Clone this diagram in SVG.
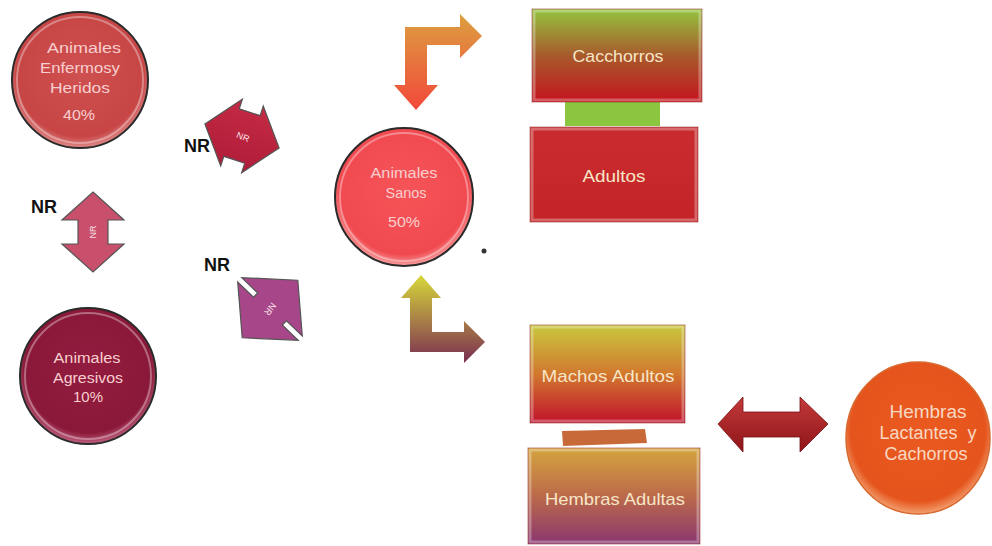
<svg xmlns="http://www.w3.org/2000/svg" width="992" height="546" viewBox="0 0 992 546">
<defs>
<radialGradient id="gEnf" cx="0.5" cy="0.45" r="0.55"><stop offset="0" stop-color="#cf5050"/><stop offset="0.85" stop-color="#c74545"/><stop offset="1" stop-color="#e08a8a"/></radialGradient>
<radialGradient id="gAgr" cx="0.5" cy="0.45" r="0.55"><stop offset="0" stop-color="#921c40"/><stop offset="0.85" stop-color="#8a1838"/><stop offset="1" stop-color="#c06080"/></radialGradient>
<radialGradient id="gSan" cx="0.5" cy="0.45" r="0.55"><stop offset="0" stop-color="#f65458"/><stop offset="0.85" stop-color="#f04a50"/><stop offset="1" stop-color="#f8a0a0"/></radialGradient>
<radialGradient id="gLac" cx="0.5" cy="0.45" r="0.55"><stop offset="0" stop-color="#ea5a20"/><stop offset="0.85" stop-color="#e5541c"/><stop offset="1" stop-color="#f2a070"/></radialGradient>
<linearGradient id="gCac" x1="0" y1="0" x2="0" y2="1"><stop offset="0" stop-color="#94c43e"/><stop offset="0.5" stop-color="#a85a2c"/><stop offset="1" stop-color="#c4141e"/></linearGradient>
<linearGradient id="gAdu" x1="0" y1="0" x2="0" y2="1"><stop offset="0" stop-color="#c92c2e"/><stop offset="1" stop-color="#c42428"/></linearGradient>
<linearGradient id="gMac" x1="0" y1="0" x2="0" y2="1"><stop offset="0" stop-color="#c8c83e"/><stop offset="0.5" stop-color="#d2782e"/><stop offset="1" stop-color="#c0122c"/></linearGradient>
<linearGradient id="gHem" x1="0" y1="0" x2="0" y2="1"><stop offset="0" stop-color="#d4a43e"/><stop offset="0.5" stop-color="#bc6a4a"/><stop offset="1" stop-color="#8a3670"/></linearGradient>
<linearGradient id="gBent1" x1="0" y1="0" x2="0" y2="1"><stop offset="0" stop-color="#dca040"/><stop offset="1" stop-color="#f2483a"/></linearGradient>
<linearGradient id="gBent2" x1="0" y1="0" x2="0" y2="1"><stop offset="0" stop-color="#d8d83a"/><stop offset="1" stop-color="#7a2c52"/></linearGradient>
<linearGradient id="gDbl" x1="0" y1="0" x2="0" y2="1"><stop offset="0" stop-color="#c43a3a"/><stop offset="1" stop-color="#8e1418"/></linearGradient>
<linearGradient id="gNR1" x1="0" y1="0" x2="0" y2="1"><stop offset="0" stop-color="#c42a44"/><stop offset="1" stop-color="#b01c38"/></linearGradient>
</defs>
<style>
.circ{stroke:#2a2a2a;stroke-width:2}
.rim{fill:none;stroke:#ffffff;stroke-opacity:0.35;stroke-width:2}
.ct{font-family:"Liberation Sans",Arial,sans-serif;font-size:14px;fill:#f8cfcf;text-anchor:middle}
.lt{font-family:"Liberation Sans",Arial,sans-serif;font-size:18px;fill:#f8d8c4;text-anchor:middle}
.rt{font-family:"Liberation Sans",Arial,sans-serif;font-size:17px;fill:#f6e6c6;text-anchor:middle}
.box{stroke:#8a1a1a;stroke-width:1;stroke-opacity:0.5}
.bev{fill:none;stroke:#ffffff;stroke-opacity:0.3;stroke-width:3}
.nr{font-family:"Liberation Sans",Arial,sans-serif;font-size:18px;font-weight:bold;fill:#111}
.nri{font-family:"Liberation Sans",Arial,sans-serif;font-size:9px;fill:#fbe0e8;text-anchor:middle}
.arr{stroke:#555;stroke-width:1.2}
</style>

<g id="connectors">
  <g id="nr-enfermos-sanos">
    <path class="arr" fill="url(#gNR1)" transform="translate(242,136) rotate(18)" d="M39,0 L11,-35 L11,-25 L-11,-25 L-11,-35 L-39,0 L-11,35 L-11,25 L11,25 L11,35 Z"/>
    <text class="nri" transform="translate(243,137) rotate(22)" y="3">NR</text>
    <text class="nr" x="184" y="152">NR</text>
  </g>
  <g id="nr-enfermos-agresivos">
    <path class="arr" fill="#c8506c" transform="translate(93,232)" d="M0,-40 L31,-12 L15,-12 L15,12 L31,12 L0,40 L-31,12 L-15,12 L-15,-12 L-31,-12 Z"/>
    <text class="nri" transform="translate(93,232) rotate(-90)" y="3">NR</text>
    <text class="nr" x="31" y="213">NR</text>
  </g>
  <g id="nr-agresivos-sanos">
    <path class="arr" fill="#a8468a" transform="translate(270,309) rotate(-46)" d="M40,0 L3,-42 L3,-20 L-3,-20 L-3,-42 L-40,0 L-3,42 L-3,20 L3,20 L3,42 Z"/>
    <text class="nri" transform="translate(270,309) rotate(128)" y="3">NR</text>
    <text class="nr" x="204" y="271">NR</text>
  </g>
  <path id="bent-top" fill="url(#gBent1)" d="M405,27 L460,27 L460,14 L482,36 L460,58 L460,45 L427,45 L427,85 L438,85 L416,110 L394,85 L405,85 Z"/>
  <path id="bent-bottom" fill="url(#gBent2)" d="M421,275 L441,298 L432,298 L432,332 L464,332 L464,321 L485,342 L464,363 L464,352 L410,352 L410,298 L401,298 Z"/>
  <path id="double-arrow" fill="url(#gDbl)" stroke="#7a1014" stroke-width="0.8" d="M718,424 L743,397 L743,412 L800,412 L800,397 L828,424 L800,452 L800,437 L743,437 L743,452 Z"/>
  <rect id="bar-top" x="565" y="102" width="95" height="24" fill="#8cc640"/>
  <path id="bar-bottom" fill="#c8693a" d="M562,431 L645,429 L647,443 L563,446 Z"/>
  <circle id="dot" cx="484" cy="251" r="2.5" fill="#333"/>
</g>

<g id="n-enfermos">
  <circle class="circ" cx="80" cy="80" r="68" fill="url(#gEnf)"/>
  <circle class="rim" cx="80" cy="80" r="63"/>
  <text class="ct" x="84" y="53" textLength="74" lengthAdjust="spacingAndGlyphs">Animales</text>
  <text class="ct" x="80" y="73" textLength="80" lengthAdjust="spacingAndGlyphs">Enfermosy</text>
  <text class="ct" x="80" y="93" textLength="60" lengthAdjust="spacingAndGlyphs">Heridos</text>
  <text class="ct" x="79" y="120" textLength="32" lengthAdjust="spacingAndGlyphs">40%</text>
</g>
<g id="n-agresivos">
  <circle class="circ" cx="88" cy="376" r="68" fill="url(#gAgr)"/>
  <circle class="rim" cx="88" cy="376" r="63"/>
  <text class="ct" x="87" y="363" textLength="67" lengthAdjust="spacingAndGlyphs">Animales</text>
  <text class="ct" x="88" y="383" textLength="70" lengthAdjust="spacingAndGlyphs">Agresivos</text>
  <text class="ct" x="88" y="402" textLength="30" lengthAdjust="spacingAndGlyphs">10%</text>
</g>
<g id="n-sanos">
  <circle class="circ" cx="404" cy="197" r="69" fill="url(#gSan)"/>
  <circle class="rim" cx="404" cy="197" r="64"/>
  <text class="ct" x="404" y="178" textLength="67" lengthAdjust="spacingAndGlyphs">Animales</text>
  <text class="ct" x="406" y="198" textLength="41" lengthAdjust="spacingAndGlyphs">Sanos</text>
  <text class="ct" x="404" y="227" textLength="32" lengthAdjust="spacingAndGlyphs">50%</text>
</g>
<g id="n-lactantes">
  <ellipse cx="918" cy="438" rx="72" ry="76" fill="url(#gLac)" stroke="#d8682e" stroke-width="1.5"/>
  <text class="lt" x="928" y="418" textLength="77" lengthAdjust="spacingAndGlyphs">Hembras</text>
  <text class="lt" x="928" y="439" textLength="97" lengthAdjust="spacingAndGlyphs" xml:space="preserve">Lactantes  y</text>
  <text class="lt" x="926" y="460" textLength="83" lengthAdjust="spacingAndGlyphs">Cachorros</text>
</g>
<g id="n-cacchorros">
  <rect class="box" x="532" y="9" width="170" height="93" fill="url(#gCac)"/>
  <rect class="bev" x="534" y="11" width="166" height="89"/>
  <text class="rt" x="618" y="62" textLength="91" lengthAdjust="spacingAndGlyphs">Cacchorros</text>
</g>
<g id="n-adultos">
  <rect class="box" x="530" y="127" width="168" height="95" fill="url(#gAdu)"/>
  <rect class="bev" x="532" y="129" width="164" height="91"/>
  <text class="rt" x="614" y="182" textLength="63" lengthAdjust="spacingAndGlyphs">Adultos</text>
</g>
<g id="n-machos">
  <rect class="box" x="530" y="325" width="155" height="98" fill="url(#gMac)"/>
  <rect class="bev" x="532" y="327" width="151" height="94"/>
  <text class="rt" x="608" y="382" textLength="133" lengthAdjust="spacingAndGlyphs">Machos Adultos</text>
</g>
<g id="n-hembras">
  <rect class="box" x="528" y="448" width="172" height="96" fill="url(#gHem)"/>
  <rect class="bev" x="530" y="450" width="168" height="92"/>
  <text class="rt" x="615" y="505" textLength="140" lengthAdjust="spacingAndGlyphs">Hembras Adultas</text>
</g>
</svg>
